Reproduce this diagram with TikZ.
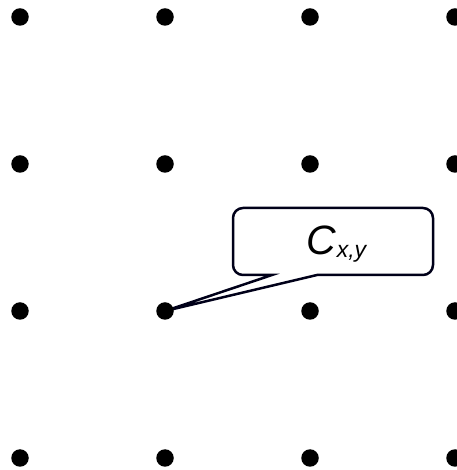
\documentclass[tikz,border=0pt]{standalone}
\usepackage{fontspec}
\setmainfont{Liberation Sans}
\begin{document}
\begin{tikzpicture}[x=1pt,y=1pt,
  dot/.style={circle,fill=black,inner sep=0pt,minimum size=17.5pt},
  callout/.style={draw=black!90!blue,line width=2.5pt,fill=white,line join=miter},
  lbl/.style={inner sep=0pt,anchor=base west}]
\useasboundingbox (0,0) rectangle (456,470);
% callout
\coordinate (tip) at (165,159);
\coordinate (p1) at (272,195);
\coordinate (p2) at (317,195);
\draw[callout] (p1) -- (tip) -- (p2) -- (423,195) arc[start angle=-90,end angle=0,radius=10]
  -- (433,252) arc[start angle=0,end angle=90,radius=10]
  -- (243,262) arc[start angle=90,end angle=180,radius=10]
  -- (233,205) arc[start angle=180,end angle=270,radius=10] -- cycle;
\node[lbl] (txt) at (306,215) {\fontsize{41}{41}\selectfont\itshape C\kern1pt\raisebox{-3pt}{\fontsize{23}{23}\selectfont x,y}};
% dots
\foreach \i in {0,1,2,3}{
  \foreach \j in {0,1,2,3}{
    \node[dot] (d-\i-\j) at ({20+145*\i},{453-147*\j}) {};
  }
}
\end{tikzpicture}
\end{document}
